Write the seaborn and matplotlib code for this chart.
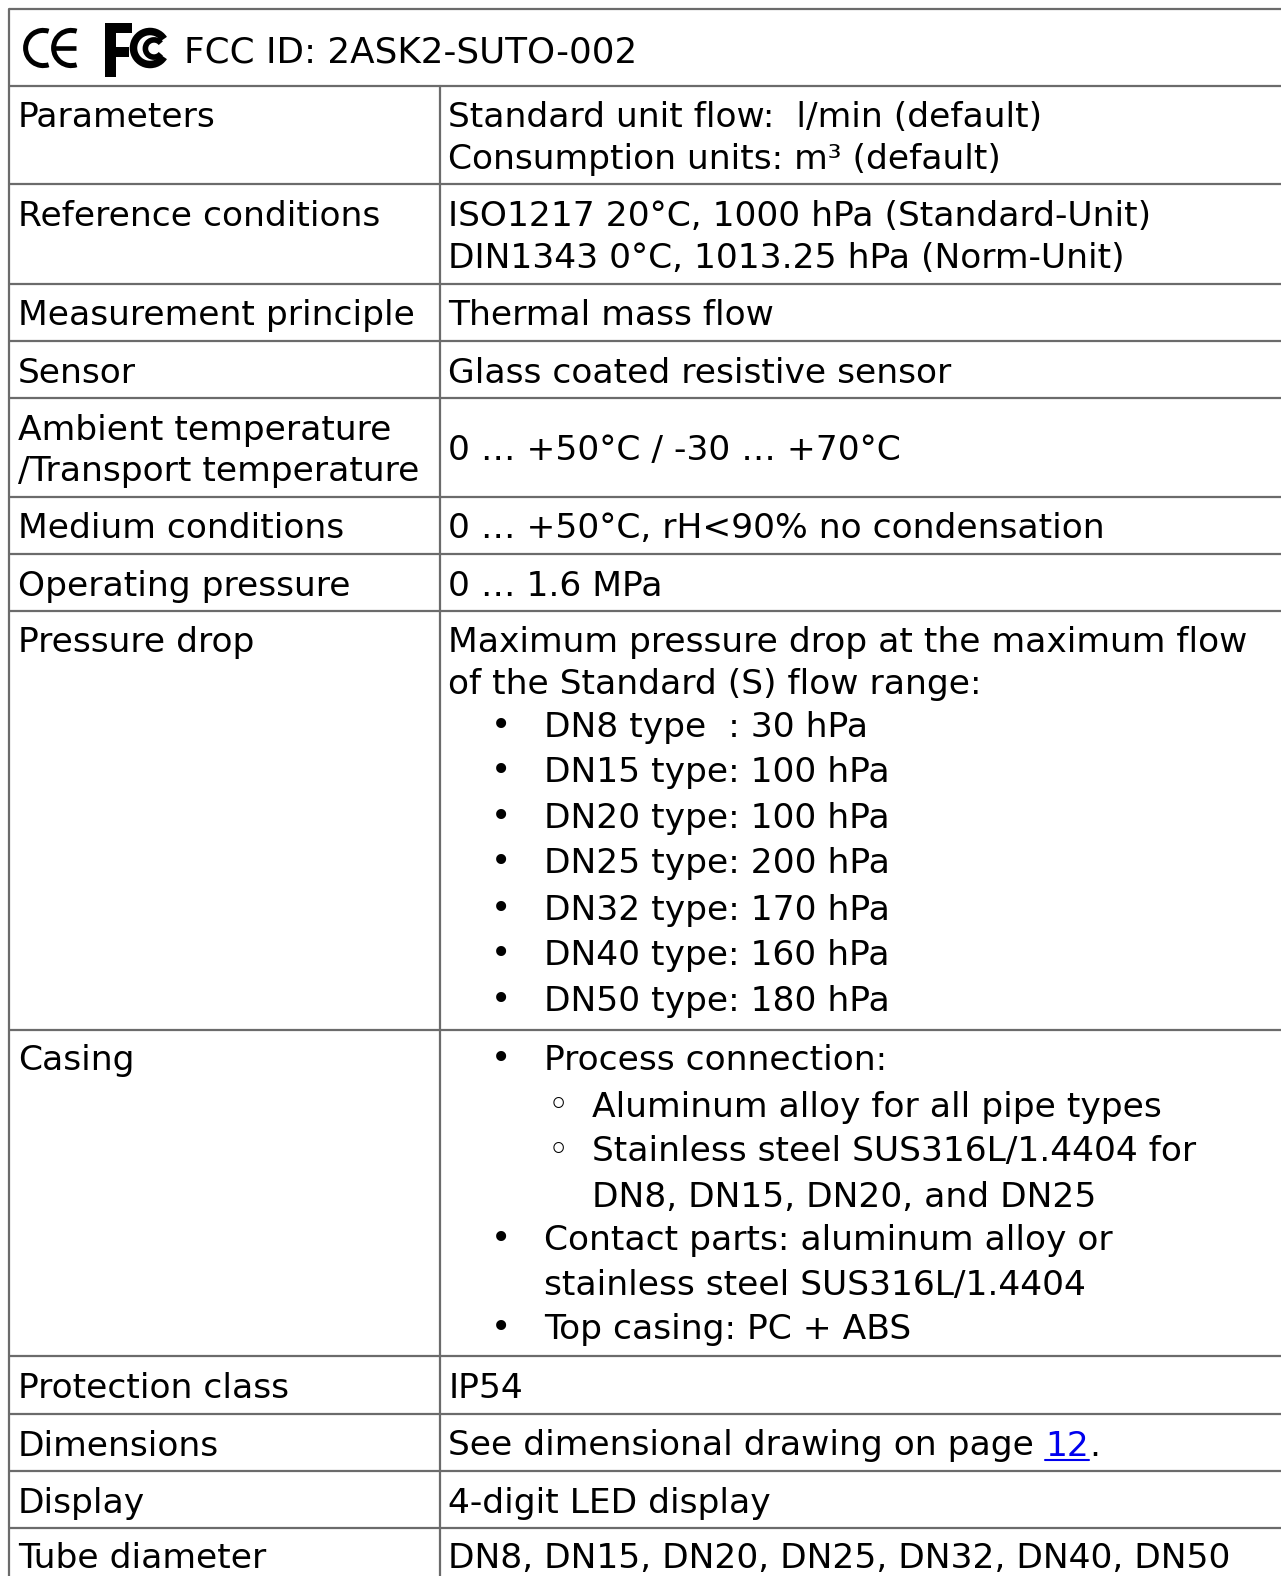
import matplotlib
matplotlib.use("Agg")
import matplotlib.pyplot as plt
import matplotlib.transforms as mtransforms
from matplotlib.patches import Arc, Rectangle
import seaborn as sns

# ---------------- data ----------------
header_text = "FCC ID: 2ASK2-SUTO-002"
param_names = [
    ["Parameters"],
    ["Reference conditions"],
    ["Measurement principle"],
    ["Sensor"],
    ["Ambient temperature", "/Transport temperature"],
    ["Medium conditions"],
    ["Operating pressure"],
    ["Pressure drop"],
    ["Casing"],
    ["Protection class"],
    ["Dimensions"],
    ["Display"],
    ["Tube diameter"],
]
param_values = [
    [("t", "Standard unit flow:  l/min (default)"), ("t", "Consumption units: m³ (default)")],
    [("t", "ISO1217 20°C, 1000 hPa (Standard-Unit)"), ("t", "DIN1343 0°C, 1013.25 hPa (Norm-Unit)")],
    [("t", "Thermal mass flow")],
    [("t", "Glass coated resistive sensor")],
    [("t", "0 … +50°C / -30 … +70°C")],
    [("t", "0 … +50°C, rH<90% no condensation")],
    [("t", "0 … 1.6 MPa")],
    [("t", "Maximum pressure drop at the maximum flow"), ("t", "of the Standard (S) flow range:"),
     ("b", "DN8 type  : 30 hPa"), ("b", "DN15 type: 100 hPa"), ("b", "DN20 type: 100 hPa"),
     ("b", "DN25 type: 200 hPa"), ("b", "DN32 type: 170 hPa"), ("b", "DN40 type: 160 hPa"),
     ("b", "DN50 type: 180 hPa")],
    [("b", "Process connection:"), ("c", "Aluminum alloy for all pipe types"),
     ("c", "Stainless steel SUS316L/1.4404 for"), ("cc", "DN8, DN15, DN20, and DN25"),
     ("b", "Contact parts: aluminum alloy or"), ("bc", "stainless steel SUS316L/1.4404"),
     ("b", "Top casing: PC + ABS")],
    [("t", "IP54")],
    [("link", "See dimensional drawing on page ", "12", ".")],
    [("t", "4-digit LED display")],
    [("t", "DN8, DN15, DN20, DN25, DN32, DN40, DN50")],
]

# ---------------- layout (pixels) ----------------
W, H = 1281, 1576
row_lines = [9, 85.5, 184, 283.5, 341, 398, 497, 554, 611, 1030, 1356, 1414, 1471, 1528]
left_x, col_x = 9, 440
name_y = [[115.6], [214.2], [313.7], [371], [428.3, 469.6], [527], [584], [640.5],
          [1058.8], [1386.6], [1444], [1501], [1556.5]]
value_y = [[115.6, 157.9], [214.2, 256.4], [313.7], [371], [448.5], [527], [584],
           [640.5, 682.7, 725, 770, 816.5, 861.7, 908, 953, 999.5],
           [1058.8, 1105, 1150, 1195.5, 1238.8, 1283, 1327],
           [1386.6], [1444], [1501], [1556.5]]

FS = 24.8
DY = 2.0
LINE_C = "#6b6b6b"

sns.set_theme(style="white")
plt.rcParams['font.family'] = ['DejaVu Sans']

fig = plt.figure(figsize=(W / 100, H / 100), dpi=100)
ax = fig.add_axes([0, 0, 1, 1])
ax.set_xlim(0, W)
ax.set_ylim(H, 0)
ax.axis("off")

# grid lines
for y in row_lines:
    ax.plot([left_x, W], [y, y], color=LINE_C, lw=1.6, solid_capstyle="butt")
ax.plot([left_x, left_x], [row_lines[0], H], color=LINE_C, lw=1.6)
ax.plot([col_x, col_x], [row_lines[1], H], color=LINE_C, lw=1.6)

# ---------- logos ----------
def c_arc(cx, cy, r, lwp, t1, t2):
    ax.add_patch(Arc((cx, cy), 2 * r, 2 * r, angle=0, theta1=t1, theta2=t2,
                     color="black", lw=lwp * 0.72, capstyle="butt"))
# CE mark
c_arc(43.2, 48, 17.6, 5.0, 72, 288)
c_arc(71.2, 48, 17.6, 5.0, 72, 288)
ax.plot([53.6, 75.5], [48, 48], color="black", lw=4.6 * 0.72, solid_capstyle="butt")
# FC logo
ax.add_patch(Rectangle((105, 23), 11, 54, color="black", lw=0))
ax.add_patch(Rectangle((105, 23), 27, 9.5, color="black", lw=0))
ax.add_patch(Rectangle((105, 47), 24, 9.5, color="black", lw=0))
c_arc(150, 48, 16.5, 7.5, 33, 327)
c_arc(154, 48.5, 8.6, 5.6, 38, 322)

ax.text(184, 50.3 + DY, header_text, fontsize=FS * 1.04, va="center", ha="left", color="black")

# ---------- names ----------
for names, ys in zip(param_names, name_y):
    for n, y in zip(names, ys):
        ax.text(18, y + DY, n, fontsize=FS, va="center", ha="left", color="black")

renderer = fig.canvas.get_renderer()
x_text, x_bul, x_btxt, x_circ, x_ctxt = 448.5, 501, 544, 558, 592
blend = mtransforms.blended_transform_factory(mtransforms.IdentityTransform(), ax.transData)

for vals, ys in zip(param_values, value_y):
    for v, y in zip(vals, ys):
        kind = v[0]
        yy = y + DY
        if kind == "t":
            ax.text(x_text, yy, v[1], fontsize=FS, va="center", ha="left", color="black")
        elif kind == "b":
            ax.text(x_bul, y + 1, "•", fontsize=FS * 1.0, va="center", ha="center", color="black")
            ax.text(x_btxt, yy, v[1], fontsize=FS, va="center", ha="left", color="black")
        elif kind == "bc":
            ax.text(x_btxt, yy, v[1], fontsize=FS, va="center", ha="left", color="black")
        elif kind == "c":
            ax.text(x_circ, y + 1, "◦", fontsize=FS * 1.05, va="center", ha="center", color="black")
            ax.text(x_ctxt, yy, v[1], fontsize=FS, va="center", ha="left", color="black")
        elif kind == "cc":
            ax.text(x_ctxt, yy, v[1], fontsize=FS, va="center", ha="left", color="black")
        elif kind == "link":
            t0 = ax.text(x_text, yy, v[1], fontsize=FS, va="center", ha="left", color="black")
            bb = t0.get_window_extent(renderer)
            t1 = ax.text(bb.x1, yy, v[2], fontsize=FS, va="center", ha="left", color="#0000EE",
                         transform=blend)
            bb1 = t1.get_window_extent(renderer)
            ax.text(bb1.x1, yy, v[3], fontsize=FS, va="center", ha="left", color="black",
                    transform=blend)
            inv = ax.transData.inverted()
            xa = inv.transform((bb1.x0, 0))[0]
            xb = inv.transform((bb1.x1, 0))[0]
            ax.plot([xa, xb], [y + 16, y + 16], color="#0000EE", lw=1.5)

fig.savefig("out.png", dpi=100)
